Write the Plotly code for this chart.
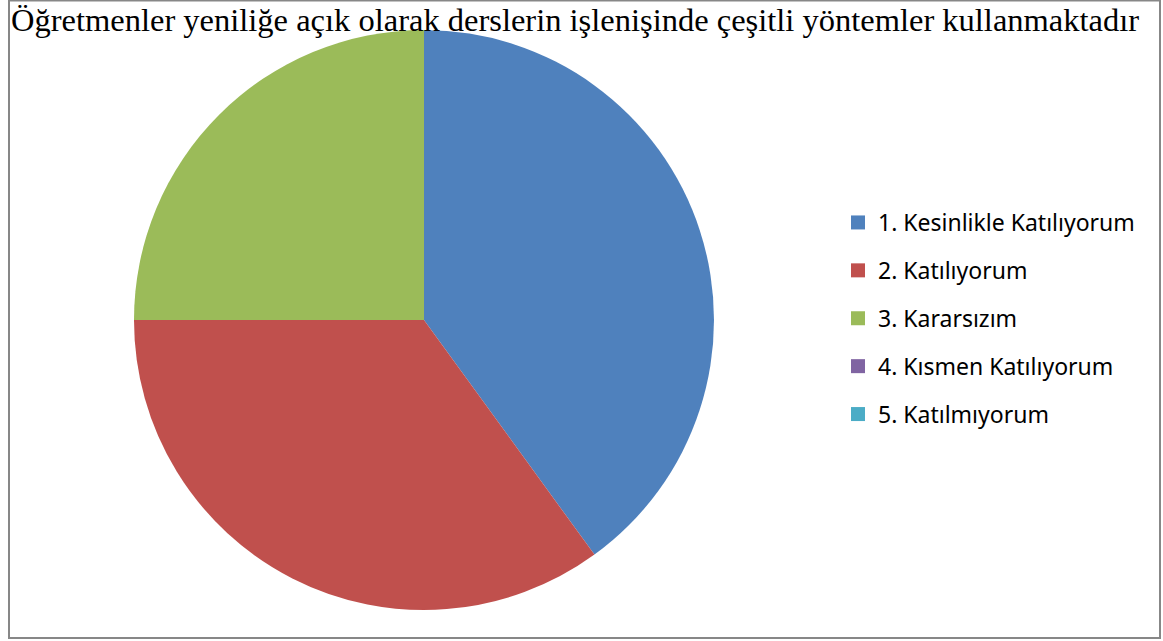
import plotly.graph_objects as go

categories = ["1. Kesinlikle Katılıyorum", "2. Katılıyorum", "3. Kararsızım",
              "4. Kısmen Katılıyorum", "5. Katılmıyorum"]
values = [40, 35, 25, 0, 0]
colors = ["#4F81BD", "#C0504D", "#9BBB59", "#8064A2", "#4BACC6"]
title_text = "Öğretmenler yeniliğe açık olarak derslerin işlenişinde çeşitli yöntemler kullanmaktadır"

W, H = 1163, 641
cx, cy, r = 424, 320, 290

fig = go.Figure()
fig.add_trace(go.Pie(
    labels=categories, values=values, sort=False, direction="clockwise", rotation=0,
    marker=dict(colors=colors, line=dict(width=0)), textinfo="none", hoverinfo="label+percent",
    showlegend=False,
    domain=dict(x=[(cx - r) / W, (cx + r) / W], y=[1 - (cy + r) / H, 1 - (cy - r) / H]),
))
for i, (c, col) in enumerate(zip(categories, colors)):
    fig.add_trace(go.Scatter(
        x=[None], y=[None], mode="markers", name=c, legendgroup=f"g{i}",
        marker=dict(symbol="square", size=14, color=col),
    ))

fig.update_layout(
    width=W, height=H, margin=dict(l=0, r=0, t=0, b=0),
    paper_bgcolor="white", plot_bgcolor="white",
    xaxis=dict(visible=False), yaxis=dict(visible=False),
    legend=dict(x=838 / W, y=1 - 201 / H, xanchor="left", yanchor="top",
                font=dict(family="Noto Sans", size=23, color="#000000"),
                tracegroupgap=15, itemwidth=30, bgcolor="rgba(0,0,0,0)"),
    annotations=[dict(text=title_text, x=9 / W, y=1 - 0 / H, xref="paper", yref="paper",
                      xanchor="left", yanchor="top", showarrow=False,
                      font=dict(family="Liberation Serif", size=32.5, color="#000000"))],
    shapes=[dict(type="rect", xref="paper", yref="paper",
                 x0=9 / W, x1=1160 / W, y0=1 - 638 / H, y1=1 - 0.5 / H,
                 line=dict(color="#878787", width=2), fillcolor="rgba(0,0,0,0)", layer="below")],
)
fig.write_html("out.html", config={"displayModeBar": False},
               post_script="document.body.style.margin='0';")
